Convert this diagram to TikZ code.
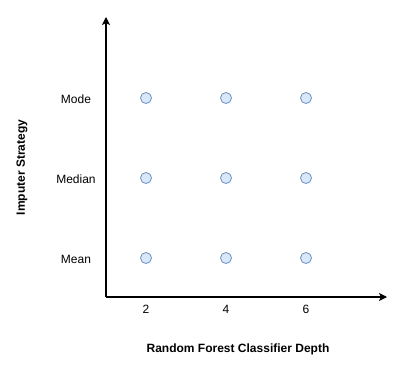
\documentclass[tikz,border=0pt]{standalone}
\usepackage{fontspec}
\setmainfont{Liberation Sans}
\usetikzlibrary{arrows.meta}
\definecolor{dotfill}{HTML}{DAE8FC}
\definecolor{dotline}{HTML}{6C8EBF}
\begin{document}
\begin{tikzpicture}[x=1pt,y=-1pt,
  axis/.style={line width=1.2pt,-{Stealth[length=8pt,width=8pt,inset=2pt]}},
  dot/.style={circle,draw=dotline,fill=dotfill,line width=0.8pt,minimum size=11pt,inner sep=0pt},
  lbl/.style={font=\fontsize{12}{14}\selectfont,inner sep=0pt},
  ttl/.style={font=\fontsize{12}{14}\selectfont\bfseries,inner sep=0pt}]
\useasboundingbox (0,0) rectangle (393,369);
\coordinate (o) at (106,297);
\coordinate (ytip) at (106,17);
\coordinate (xtip) at (387,297);
\draw[axis] (o) -- (ytip);
\draw[axis] (o) -- (xtip);
\foreach \i/\x in {1/146,2/226,3/306}{
  \foreach \j/\y in {1/98,2/178,3/258}{
    \node[dot] (d\i\j) at (\x,\y) {};
  }
}
\node[lbl] (lmode) at (76,99) {Mode};
\node[lbl] (lmedian) at (76,179) {Median};
\node[lbl] (lmean) at (76,259) {Mean};
\node[lbl] (t2) at (146,309) {2};
\node[lbl] (t4) at (226,309) {4};
\node[lbl] (t6) at (306,309) {6};
\node[ttl] (xt) at (238,349) {Random Forest Classifier Depth};
\node[ttl,rotate=90] (yt) at (22,167.5) {Imputer Strategy};
\end{tikzpicture}
\end{document}
